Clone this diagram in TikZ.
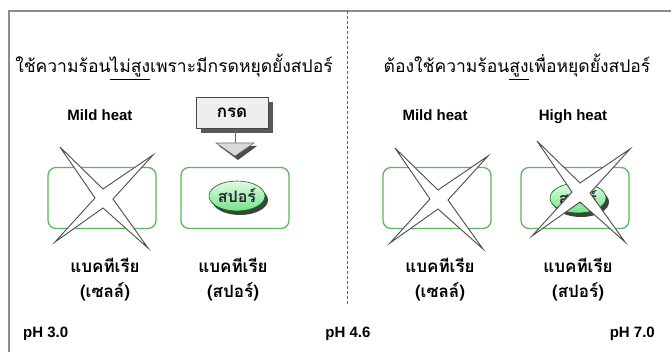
\documentclass[tikz,border=0pt]{standalone}
\usepackage{fontspec}
\setmainfont{Liberation Sans}
\newfontfamily\thai[Script=Thai]{Loma}
\usetikzlibrary{shapes.geometric,shadows}
\definecolor{boxgreen}{RGB}{95,180,95}
\definecolor{framegray}{RGB}{140,140,140}
\definecolor{sporetop}{RGB}{225,252,228}
\definecolor{sporebot}{RGB}{120,225,140}
\begin{document}
\begin{tikzpicture}[x=1pt,y=-1pt,
  greenbox/.style={draw=boxgreen, line width=1.3pt, rounded corners=8pt, minimum width=108pt, minimum height=61pt, inner sep=0pt},
  lab/.style={font=\bfseries\fontsize{15}{17}\selectfont, inner sep=0pt, anchor=base},
  thtitle/.style={font=\thai\fontsize{17.5}{20}\selectfont, inner sep=0pt},
  thlab/.style={font=\thai\bfseries\fontsize{17}{25}\selectfont, align=center, inner sep=0pt},
  spore/.style={ellipse, minimum width=56pt, minimum height=30pt, inner sep=0pt, draw=green!45!black, line width=0.6pt,
     top color=sporetop, bottom color=sporebot, text=black!85, font=\thai\bfseries\fontsize{16}{18}\selectfont,
     drop shadow={shadow xshift=3pt, shadow yshift=-4pt, fill=black!75, opacity=1}},
  acidbox/.style={draw=gray!55!black, line width=0.8pt, fill=gray!13, minimum width=72pt, minimum height=31pt, inner sep=0pt,
     font=\thai\bfseries\fontsize{17}{19}\selectfont,
     drop shadow={shadow xshift=5pt, shadow yshift=-5pt, fill=black!65, opacity=1}},
  xstar/.pic={\draw[fill=white, draw=black!70, line width=0.9pt, line join=miter]
     (-44,-51) -- (-1,-9) -- (49,-43) -- (9,1) -- (44,50) -- (-1,10) -- (-49,44) -- (-9,0) -- cycle;}
]
\useasboundingbox (0,0) rectangle (671,352);
\fill[white] (0,0) rectangle (671,352);

% frame
\coordinate (fbl) at (9,352);
\coordinate (ftl) at (9,11);
\coordinate (ftr) at (671,11);
\draw[framegray, line width=1.5pt] (fbl) -- (ftl) -- (ftr);

% dashed divider
\coordinate (dtop) at (347,11);
\coordinate (dbot) at (347,305);
\draw[black!60, line width=0.9pt, dash pattern=on 3pt off 2pt] (dtop) -- (dbot);

% titles
\node[thtitle] (t1) at (174,67) {ใช้ความร้อน\underline{ไม่สูง}เพราะมีกรดหยุดยั้งสปอร์};
\node[thtitle] (t2) at (517,67) {ต้องใช้ความร้อน\underline{สูง}เพื่อหยุดยั้งสปอร์};

% heat labels
\node[lab] (m1) at (100,121) {Mild heat};
\node[lab] (m2) at (435,121) {Mild heat};
\node[lab] (h2) at (573,121) {High heat};

% acid box and arrow
\node[acidbox] (acid) at (232,113) {กรด};
\coordinate (abase) at (235,143);
\draw[black!60, line width=0.8pt] (acid.south -| abase) -- (abase);
\fill[black!70] (219,146) -- (257,146) -- (238,160) -- cycle;
\filldraw[fill=gray!30, draw=black!55, line width=0.6pt] (216,143) -- (254,143) -- (235,156) -- cycle;

% green boxes
\node[greenbox] (b1) at (102,198) {};
\node[greenbox] (b2) at (235,198) {};
\node[greenbox] (b3) at (437,198) {};
\node[greenbox] (b4) at (575,198) {};

% spores
\node[spore] (sp1) at (237,196) {สปอร์};
\node[spore] (sp2) at (578,198) {สปอร์};

% crosses
\pic (x1) at (104,198) {xstar};
\pic (x3) at (439,199) {xstar};
\pic (x4) at (581,192) {xstar};

% bacteria labels
\node[thlab] (l1) at (105,280) {แบคทีเรีย\\(เซลล์)};
\node[thlab] (l2) at (233,280) {แบคทีเรีย\\(สปอร์)};
\node[thlab] (l3) at (440,280) {แบคทีเรีย\\(เซลล์)};
\node[thlab] (l4) at (578,280) {แบคทีเรีย\\(สปอร์)};

% pH labels
\node[lab, anchor=base west] (ph1) at (23,337) {pH 3.0};
\node[lab] (ph2) at (348,337) {pH 4.6};
\node[lab, anchor=base east] (ph3) at (655,337) {pH 7.0};
\end{tikzpicture}
\end{document}
